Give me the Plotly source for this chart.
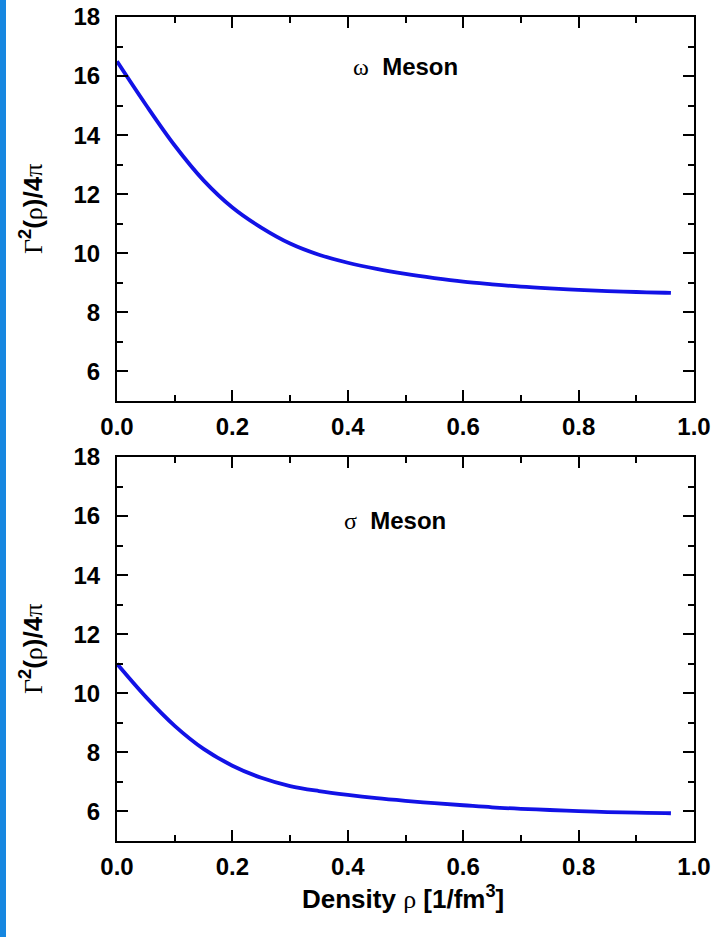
import plotly.graph_objects as go
from plotly.subplots import make_subplots

# Density grid [1/fm^3]
density = [0.0, 0.05, 0.1, 0.15, 0.2, 0.25, 0.3, 0.35, 0.4, 0.45, 0.5,
           0.55, 0.6, 0.65, 0.7, 0.75, 0.8, 0.85, 0.9, 0.95, 0.96]

# Coupling strength Gamma^2(rho)/4pi for each meson
omega_coupling = [16.5, 15.03, 13.65, 12.47, 11.55, 10.87, 10.33, 9.95, 9.68, 9.47, 9.3,
                  9.16, 9.04, 8.95, 8.87, 8.81, 8.76, 8.72, 8.69, 8.665, 8.66]
sigma_coupling = [11.0, 9.88, 8.9, 8.12, 7.55, 7.14, 6.86, 6.69, 6.56, 6.45, 6.36,
                  6.28, 6.21, 6.14, 6.09, 6.05, 6.01, 5.98, 5.96, 5.945, 5.94]

panel_labels = ["ω", "σ"]
x_ticks = [0.0, 0.2, 0.4, 0.6, 0.8, 1.0]
y_ticks = [6, 8, 10, 12, 14, 16, 18]

W, H = 713, 937
L, R, T, B = 117, 19, 17, 96
plot_w = W - L - R
plot_h = H - T - B

fig = make_subplots(rows=2, cols=1, shared_xaxes=False, vertical_spacing=0.0)

for i, ys in enumerate([omega_coupling, sigma_coupling]):
    fig.add_trace(go.Scatter(x=density, y=ys, mode="lines", line_shape="spline",
                             line=dict(color="#1212e6", width=3.8),
                             showlegend=False), row=i + 1, col=1)

# Panel domains (pixel-based)
top_dom = [(H - B - 401) / plot_h, 1.0]
bot_dom = [0.0, (H - B - 457) / plot_h]

tickfont = dict(family="Liberation Sans, Arial", size=24, color="black", weight="bold")
common_axis = dict(showline=True, linecolor="black", linewidth=2, mirror="ticks",
                   ticks="inside", ticklen=11, tickwidth=2, tickcolor="black",
                   showgrid=False, zeroline=False, tickfont=tickfont, automargin=False)

for ax_x, ax_y, dom in [("xaxis", "yaxis", top_dom), ("xaxis2", "yaxis2", bot_dom)]:
    fig.update_layout({
        ax_x: dict(range=[0, 1.0], tickvals=x_ticks,
                   ticktext=[f"{v:.1f}" for v in x_ticks], ticklabelstandoff=3,
                   minor=dict(ticks="inside", ticklen=6, tickwidth=2, dtick=0.1,
                              tickcolor="black", showgrid=False),
                   **common_axis),
        ax_y: dict(range=[5, 18], tickvals=y_ticks, domain=dom, ticklabelstandoff=10,
                   minor=dict(ticks="inside", ticklen=6, tickwidth=2, dtick=1,
                              tickcolor="black", showgrid=False),
                   **common_axis),
    })

serif = "<span style='font-family:Liberation Serif;font-weight:normal'>{}</span>"

annotations = []
# Meson labels inside each panel
label_pos = [(0.405, 16.34), (0.39, 15.86)]
for i, lbl in enumerate(panel_labels):
    annotations.append(dict(
        x=label_pos[i][0], y=label_pos[i][1],
        xref="x" if i == 0 else "x2", yref="y" if i == 0 else "y2",
        text=serif.format(lbl) + "  Meson", xanchor="left",
        showarrow=False, font=dict(family="Liberation Sans, Arial", size=24,
                                   color="black", weight="bold")))

# Y-axis titles
ytitle = serif.format("Γ") + "<sup>2</sup>(" + serif.format("ρ") + ")/4" + serif.format("π")
for dom in [top_dom, bot_dom]:
    annotations.append(dict(
        x=(31 - L) / plot_w, y=(dom[0] + dom[1]) / 2, xref="paper", yref="paper",
        text=ytitle, textangle=-90, showarrow=False, xanchor="center", yanchor="middle",
        font=dict(family="Liberation Sans, Arial", size=26, color="black", weight="bold")))

# X-axis title
annotations.append(dict(
    x=(403 - L) / plot_w, y=-(898 - (H - B)) / plot_h, xref="paper", yref="paper",
    text="Density " + serif.format("ρ") + " [1/fm<sup>3</sup>]",
    showarrow=False, xanchor="center", yanchor="middle",
    font=dict(family="Liberation Sans, Arial", size=26, color="black", weight="bold")))

# Blue strip along the left edge
shapes = [dict(type="rect", xref="paper", yref="paper",
               x0=-L / plot_w, x1=(6 - L) / plot_w, y0=-B / plot_h, y1=(H - B) / plot_h,
               fillcolor="#1687e0", line=dict(width=0), layer="above")]

fig.update_layout(width=W, height=H,
                  margin=dict(l=L, r=R, t=T, b=B, autoexpand=False),
                  paper_bgcolor="white", plot_bgcolor="white",
                  annotations=annotations, shapes=shapes)

fig.write_html("out.html")
